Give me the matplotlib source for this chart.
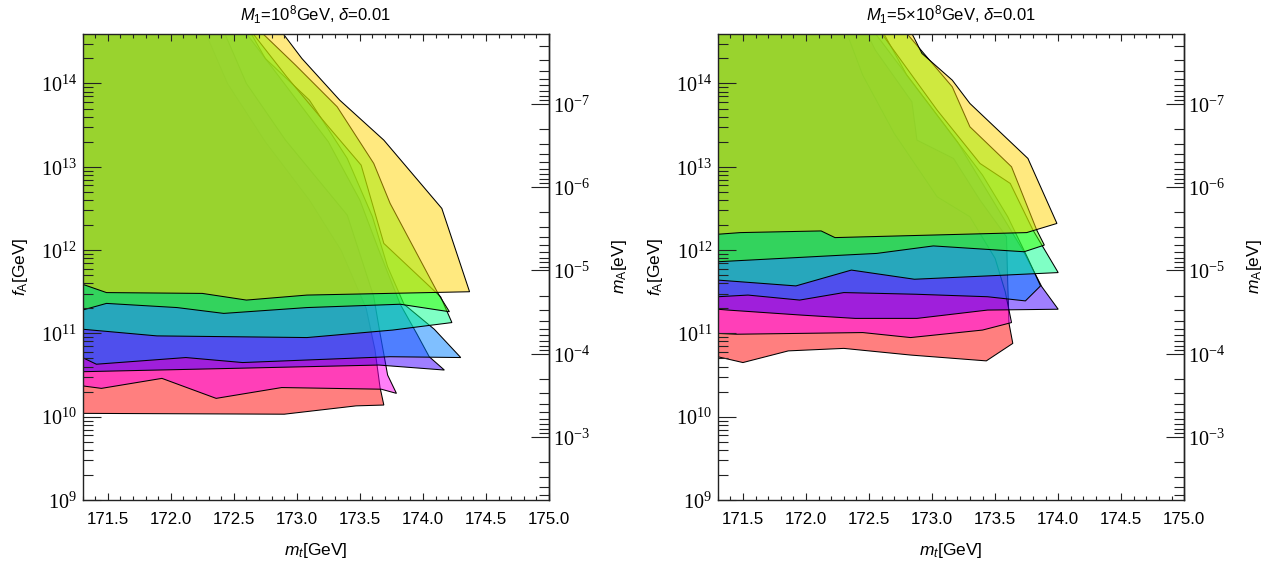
import numpy as np
import matplotlib
matplotlib.use('Agg')
import matplotlib.pyplot as plt
from matplotlib.patches import Polygon
from matplotlib.ticker import MultipleLocator, LogLocator, FuncFormatter, NullFormatter, FixedLocator

plt.rcParams['font.family'] = ['Liberation Sans', 'DejaVu Sans']
plt.rcParams['mathtext.fontset'] = 'custom'
plt.rcParams['mathtext.rm'] = 'Liberation Serif'
plt.rcParams['mathtext.it'] = 'Liberation Sans:italic'
plt.rcParams['mathtext.sf'] = 'Liberation Sans'
plt.rcParams['mathtext.bf'] = 'Liberation Sans:bold'

# ---------------- data ----------------
titles = [r'$M_\mathsf{1}$=10$^\mathsf{8}$GeV, $\delta$=0.01',
          r'$M_\mathsf{1}$=5×10$^\mathsf{8}$GeV, $\delta$=0.01']
mt_min, mt_max = 171.3, 175.0
lgfa_min, lgfa_max = 9.0, 14.6
xtick_values = [171.5, 172.0, 172.5, 173.0, 173.5, 174.0, 174.5, 175.0]
fa_tick_values = [1e9, 1e10, 1e11, 1e12, 1e13, 1e14]
ma_tick_values = [1e-3, 1e-4, 1e-5, 1e-6, 1e-7]
ma_const = 5.7e6   # m_A[eV] = ma_const / f_A[GeV]

band_order = ['red', 'pink', 'purple', 'blue', 'teal', 'green', 'yellow']

# each band: lower boundary (m_t, log10 f_A) and right edge (m_t, log10 f_A)
# ---- left panel (M1 = 1e8 GeV)
left_red_lower = [(171.3, 10.04), (172.90, 10.03), (173.47, 10.13), (173.69, 10.14)]
left_red_edge = [(173.69, 10.14), (173.66, 10.35), (173.62, 10.8), (173.55, 11.3), (173.35, 12.0),
                 (173.1, 12.6), (172.75, 13.3), (172.45, 14.0), (172.25, 14.7)]
left_pink_lower = [(171.3, 10.37), (171.45, 10.34), (171.93, 10.46), (172.36, 10.22), (172.88, 10.35),
                   (173.67, 10.33), (173.79, 10.28)]
left_pink_edge = [(173.79, 10.28), (173.72, 10.5), (173.66, 11.0), (173.61, 11.44), (173.40, 12.42),
                  (172.91, 13.32), (172.6, 14.0), (172.4, 14.7)]
left_purple_lower = [(171.3, 10.54), (172.49, 10.58), (173.65, 10.62), (174.17, 10.56)]
left_purple_edge = [(174.17, 10.56), (174.05, 10.72), (173.95, 11.0), (173.82, 11.35), (173.65, 12.0),
                    (173.5, 12.6), (173.25, 13.3), (172.9, 14.0), (172.55, 14.7)]
left_blue_lower = [(171.3, 10.71), (171.41, 10.63), (172.12, 10.71), (172.57, 10.65), (173.74, 10.72),
                   (174.30, 10.71)]
left_blue_edge = [(174.30, 10.71), (174.09, 11.05), (173.85, 11.35), (173.72, 11.8), (173.6, 12.4),
                  (173.4, 13.1), (173.1, 13.8), (172.75, 14.3), (172.6, 14.7)]
left_teal_lower = [(171.3, 11.05), (171.89, 10.97), (173.08, 10.95), (173.76, 11.04), (174.23, 11.13)]
left_teal_edge = [(174.23, 11.13), (174.14, 11.44), (173.69, 12.08), (173.51, 13.02), (173.24, 13.5),
                  (172.92, 14.08), (172.60, 14.7)]
left_green_lower = [(171.3, 11.28), (171.49, 11.36), (172.05, 11.31), (172.42, 11.24), (173.08, 11.31),
                    (173.82, 11.35), (174.21, 11.26)]
left_green_edge = [(174.21, 11.26), (174.12, 11.48), (173.74, 12.56), (173.61, 13.04), (173.32, 13.72),
                   (172.99, 14.22), (172.66, 14.7)]
left_yellow_lower = [(171.3, 11.59), (171.49, 11.49), (172.25, 11.48), (172.6, 11.40), (173.08, 11.46),
                     (174.37, 11.50)]
left_yellow_edge = [(174.37, 11.50), (174.15, 12.50), (173.69, 13.32), (173.34, 13.80), (173.04, 14.30),
                    (172.84, 14.7)]

# ---- right panel (M1 = 5e8 GeV)
right_red_lower = [(171.3, 10.72), (171.50, 10.65), (171.86, 10.79), (172.30, 10.82), (172.83, 10.74),
                   (173.43, 10.67), (173.64, 10.88)]
right_red_edge = [(173.64, 10.88), (173.61, 11.12), (173.6, 11.6), (173.59, 12.16), (173.38, 12.6),
                  (173.17, 13.1), (172.88, 13.32), (172.84, 13.78), (172.55, 14.4), (172.45, 14.7)]
right_pink_lower = [(171.3, 11.0), (171.45, 10.99), (172.45, 11.01), (172.83, 10.95), (173.40, 11.04),
                    (173.63, 11.13)]
right_pink_edge = [(173.63, 11.13), (173.58, 11.5), (173.5, 11.9), (173.3, 12.4), (173.04, 12.64),
                   (172.7, 13.4), (172.45, 14.1), (172.3, 14.7)]
right_purple_lower = [(171.3, 11.29), (171.38, 11.28), (171.96, 11.22), (172.39, 11.18), (172.88, 11.18),
                      (173.44, 11.28), (174.0, 11.29)]
right_purple_edge = [(174.0, 11.29), (173.87, 11.56), (173.72, 12.0), (173.48, 12.6), (173.2, 13.3),
                     (172.85, 14.0), (172.5, 14.7)]
right_blue_lower = [(171.3, 11.44), (171.54, 11.46), (171.95, 11.40), (172.30, 11.49), (172.87, 11.47),
                    (173.44, 11.44), (173.74, 11.39), (173.86, 11.57)]
right_blue_edge = [(173.86, 11.57), (173.76, 11.9), (173.6, 12.4), (173.4, 12.9), (173.1, 13.5),
                   (172.8, 14.1), (172.58, 14.7)]
right_teal_lower = [(171.3, 11.64), (171.92, 11.57), (172.36, 11.76), (172.86, 11.65), (173.44, 11.69),
                    (174.0, 11.73)]
right_teal_edge = [(174.0, 11.73), (173.80, 12.24), (173.62, 12.8), (173.38, 13.04), (173.04, 13.68),
                   (172.6, 14.6), (172.56, 14.7)]
right_green_lower = [(171.3, 11.86), (172.30, 11.94), (172.56, 11.96), (173.01, 12.05), (173.73, 11.98),
                     (173.89, 12.06)]
right_green_edge = [(173.89, 12.06), (173.83, 12.24), (173.63, 13.0), (173.30, 13.48), (173.16, 13.96),
                    (172.80, 14.6), (172.76, 14.7)]
right_yellow_lower = [(171.3, 12.19), (171.48, 12.21), (172.12, 12.23), (172.23, 12.15), (173.75, 12.21),
                      (173.99, 12.32)]
right_yellow_edge = [(173.99, 12.32), (173.76, 13.10), (173.30, 13.76), (173.16, 14.04), (172.92, 14.36),
                     (172.84, 14.6), (172.8, 14.7)]

left_bands = {
    'red': (left_red_lower, left_red_edge), 'pink': (left_pink_lower, left_pink_edge),
    'purple': (left_purple_lower, left_purple_edge), 'blue': (left_blue_lower, left_blue_edge),
    'teal': (left_teal_lower, left_teal_edge), 'green': (left_green_lower, left_green_edge),
    'yellow': (left_yellow_lower, left_yellow_edge)}
right_bands = {
    'red': (right_red_lower, right_red_edge), 'pink': (right_pink_lower, right_pink_edge),
    'purple': (right_purple_lower, right_purple_edge), 'blue': (right_blue_lower, right_blue_edge),
    'teal': (right_teal_lower, right_teal_edge), 'green': (right_green_lower, right_green_edge),
    'yellow': (right_yellow_lower, right_yellow_edge)}

# ---------------- style ----------------
band_colors = {'red': (1.0, 0.0, 0.0), 'pink': (1.0, 0.0, 0.95), 'purple': (0.25, 0.0, 1.0),
               'blue': (0.0, 0.5, 1.0), 'teal': (0.0, 1.0, 0.55), 'green': (0.25, 1.0, 0.0),
               'yellow': (1.0, 0.83, 0.0)}

W, H = 1282, 564
fig = plt.figure(figsize=(W / 100, H / 100), dpi=100)
ax_rects = [(82.5, 33.5, 466.5, 466.5), (717.7, 33.5, 466.6, 466.5)]


def pow_fmt(v, pos):
    if v <= 0:
        return ''
    e = np.log10(v)
    if abs(e - round(e)) > 0.01:
        return ''
    return r'$\mathrm{10^{%d}}$' % int(round(e))


for i, (bands, title) in enumerate(zip([left_bands, right_bands], titles)):
    x0, y0, w, h = ax_rects[i]
    ax = fig.add_axes([x0 / W, 1 - (y0 + h) / H, w / W, h / H])
    ax.set_yscale('log')
    ax.set_xlim(mt_min, mt_max)
    ax.set_ylim(10 ** lgfa_min, 10 ** lgfa_max)

    x_out = mt_min - 0.5
    top_out = 10 ** (lgfa_max + 1.0)
    for name in band_order:
        lower, edge = bands[name]
        verts = [(x_out, 10 ** lower[0][1])]
        verts += [(x, 10 ** y) for x, y in lower]
        verts += [(x, 10 ** y) for x, y in edge[1:]]
        verts += [(edge[-1][0], top_out), (x_out, top_out)]
        poly = Polygon(verts, closed=True, facecolor=band_colors[name] + (0.5,),
                       edgecolor='black', linewidth=0.75, joinstyle='miter')
        ax.add_patch(poly)

    # x axis
    ax.xaxis.set_major_locator(FixedLocator(xtick_values))
    ax.xaxis.set_minor_locator(MultipleLocator(0.1))
    ax.xaxis.set_major_formatter(FuncFormatter(lambda v, p: '%.1f' % v))
    ax.tick_params(axis='x', which='both', direction='in', top=True, bottom=True,
                   labelsize=12.2, pad=9, width=0.8, color='#222222')
    ax.tick_params(axis='x', which='major', length=5)
    ax.tick_params(axis='x', which='minor', length=3)

    # y axis (left)
    ax.yaxis.set_major_locator(FixedLocator(fa_tick_values))
    ax.yaxis.set_minor_locator(LogLocator(base=10, subs=np.arange(2, 10), numticks=20))
    ax.yaxis.set_major_formatter(FuncFormatter(pow_fmt))
    ax.yaxis.set_minor_formatter(NullFormatter())
    ax.tick_params(axis='y', which='both', direction='in', left=True, right=False,
                   labelsize=14.5, pad=4, width=0.8, color='#222222')
    ax.tick_params(axis='y', which='major', length=13)
    ax.tick_params(axis='y', which='minor', length=7)

    for sp in ax.spines.values():
        sp.set_linewidth(1.0)
        sp.set_color('#222222')

    ax.set_title(title, fontsize=12, pad=9)
    ax.set_xlabel(r'$m_t$[GeV]', fontsize=12.5, labelpad=10)
    ax.set_ylabel(r'$f_\mathsf{A}$[GeV]', fontsize=12.5, labelpad=8)

    # secondary axis: axion mass
    sec = ax.secondary_yaxis('right', functions=(lambda f: ma_const / f, lambda m: ma_const / m))
    sec.yaxis.set_major_locator(FixedLocator(ma_tick_values))
    sec.yaxis.set_minor_locator(LogLocator(base=10, subs=np.arange(2, 10), numticks=20))
    sec.yaxis.set_major_formatter(FuncFormatter(pow_fmt))
    sec.yaxis.set_minor_formatter(NullFormatter())
    sec.tick_params(axis='y', which='both', direction='in', labelsize=14.5, pad=3,
                    width=0.8, color='#222222')
    sec.tick_params(axis='y', which='major', length=13)
    sec.tick_params(axis='y', which='minor', length=7)
    sec.spines['right'].set_linewidth(1.0)
    sec.spines['right'].set_color('#222222')
    sec.set_ylabel(r'$m_\mathsf{A}$[eV]', fontsize=12.5, labelpad=14)

fig.savefig('out.png', dpi=100)
